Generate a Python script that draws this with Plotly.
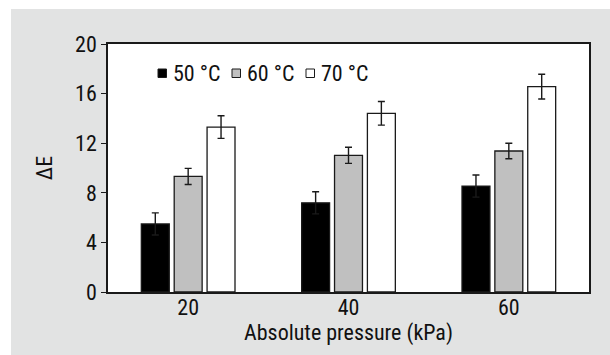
import plotly.graph_objects as go

# Colour difference after drying at three absolute pressures
pressures = ["20", "40", "60"]
series_names = ["50 °C", "60 °C", "70 °C"]
dE_50 = [5.49, 7.19, 8.54]
dE_60 = [9.32, 11.02, 11.37]
dE_70 = [13.30, 14.41, 16.56]
err_50 = [0.89, 0.89, 0.89]
err_60 = [0.65, 0.65, 0.62]
err_70 = [0.91, 0.95, 1.00]
fill_colors = ["#000000", "#c0c0c0", "#ffffff"]
y_ticks = [0, 4, 8, 12, 16, 20]

FONT = "Roboto Condensed, Liberation Sans, Arial, sans-serif"
W, H = 610, 355
M = dict(l=108, r=21, t=44, b=63)
pw = W - M["l"] - M["r"]
ph = H - M["t"] - M["b"]


def px_x(x):
    return (x - M["l"]) / pw


def px_y(y):
    return (H - M["b"] - y) / ph


fig = go.Figure()
for name, vals, errs, col in zip(series_names, [dE_50, dE_60, dE_70],
                                 [err_50, err_60, err_70], fill_colors):
    fig.add_trace(go.Bar(
        x=pressures, y=vals, name=name,
        marker=dict(color=col, line=dict(color="#1a1a1a", width=1.3)),
        error_y=dict(type="data", array=errs, visible=True,
                     color="#1a1a1a", thickness=1.4, width=3.5),
        showlegend=False,
    ))

shapes = [
    # grey panel behind the chart
    dict(type="rect", xref="paper", yref="paper", layer="below",
         x0=px_x(11), x1=px_x(W + 2), y0=px_y(H + 2), y1=px_y(9),
         fillcolor="#e2e3e3", line=dict(width=0)),
    # white plotting area
    dict(type="rect", xref="paper", yref="paper", layer="below",
         x0=0, x1=1, y0=0, y1=1, fillcolor="#ffffff", line=dict(width=0)),
]

# compact legend: small square swatches followed by the label
annotations = []
sq_x = [158, 232, 306]
for name, col, sx in zip(series_names, fill_colors, sq_x):
    shapes.append(dict(type="rect", xref="paper", yref="paper",
                       x0=px_x(sx), x1=px_x(sx + 8.5),
                       y0=px_y(77.5), y1=px_y(69),
                       fillcolor=col, line=dict(color="#1a1a1a", width=1)))
    annotations.append(dict(xref="paper", yref="paper", x=px_x(sx + 13),
                            y=px_y(73), xanchor="left", yanchor="middle",
                            text=name, showarrow=False,
                            font=dict(family=FONT, size=22, color="#111")))

fig.update_layout(
    width=W, height=H, autosize=False,
    margin=dict(l=M["l"], r=M["r"], t=M["t"], b=M["b"], pad=0),
    paper_bgcolor="#ffffff", plot_bgcolor="#ffffff",
    barmode="group", bargap=0.385, bargroupgap=0.15,
    font=dict(family=FONT, size=22, color="#111"),
    shapes=shapes, annotations=annotations,
    xaxis=dict(
        type="category", range=[-0.5, 2.5],
        showline=True, linecolor="#1a1a1a", linewidth=1.5, mirror=True,
        ticks="", showgrid=False, zeroline=False, ticklabelstandoff=-5,
        tickfont=dict(family=FONT, size=22, color="#111"),
        title=dict(text="Absolute pressure (kPa)", standoff=0,
                   font=dict(family=FONT, size=22, color="#111")),
    ),
    yaxis=dict(
        range=[0, 20], tickvals=y_ticks,
        showline=True, linecolor="#1a1a1a", linewidth=1.5, mirror=True,
        ticks="outside", ticklen=5, tickwidth=1.3, tickcolor="#1a1a1a",
        showgrid=False, zeroline=False,
        tickfont=dict(family=FONT, size=22, color="#111"),
        title=dict(text="ΔE", standoff=16,
                   font=dict(family=FONT, size=22, color="#111")),
    ),
)

fig.write_html("out.html")
